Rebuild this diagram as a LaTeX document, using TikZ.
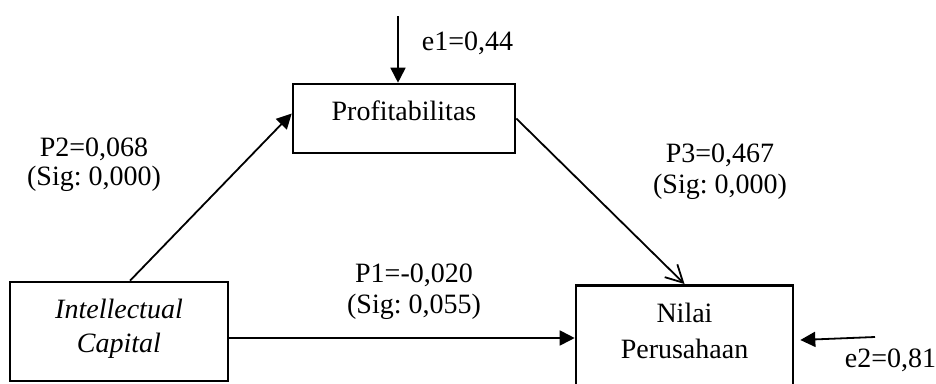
\documentclass[tikz,border=0pt]{standalone}
\usepackage{fontspec}
\setmainfont{Liberation Serif}
\usetikzlibrary{arrows.meta}
\frenchspacing
\begin{document}
\begin{tikzpicture}[x=1pt,y=-1pt,
  every node/.style={font=\fontsize{28}{31}\selectfont, inner sep=0pt},
  box/.style={draw, line width=2.6pt, inner sep=0pt},
  txt/.style={align=center, anchor=base},
  arr/.style={line width=1.8pt, -{Triangle[length=15pt,width=15pt]}},
  openarr/.style={line width=1.8pt, -{Straight Barb[length=17pt,width=18pt]}}]
\useasboundingbox (0,0) rectangle (936,383);
\clip (0,0) rectangle (936,383);
% boxes
\node[box, minimum width=222pt, minimum height=69pt] (prof) at (404,118.5) {};
\node[box, minimum width=218pt, minimum height=99pt] (ic) at (119,331.5) {};
\node[box, minimum width=217pt, minimum height=140pt, anchor=north] (nilai) at (684.5,284) {};
% texts (anchor=base is the baseline of the last line)
\node[txt] (proft) at (404,120) {Profitabilitas};
\node[txt, font=\fontsize{28}{34}\selectfont\itshape] (ict) at (119,352) {Intellectual\\Capital};
\node[txt, font=\fontsize{28}{36}\selectfont] (nilait) at (684.5,358) {Nilai\\Perusahaan};
\node[txt] (p1) at (414,313) {P1=-0,020\\(Sig: 0,055)};
\node[txt, font=\fontsize{28}{29}\selectfont] (p2) at (94,185) {P2=0,068\\(Sig: 0,000)};
\node[txt] (p3) at (720,193) {P3=0,467\\(Sig: 0,000)};
\node[txt] (e1) at (467.5,50) {e1=0,44};
\node[txt] (e2) at (890.5,367) {e2=0,81};
% free ends
\coordinate (e1s) at (398,16);
\coordinate (e2s) at (875,337);
\coordinate (p1y) at (0,338);
% connectors
\draw[arr] (e1s) -- (e1s |- prof.north);
\draw[arr] (e2s) -- ([xshift=6pt,yshift=-3pt]nilai.east |- e2s);
\draw[arr] (ic.east |- p1y) -- (nilai.west |- p1y);
\draw[arr] ([xshift=11pt]ic.north) -- ([yshift=5pt]prof.west);
\draw[openarr] (prof.east) -- (nilai.north);
\end{tikzpicture}
\end{document}
